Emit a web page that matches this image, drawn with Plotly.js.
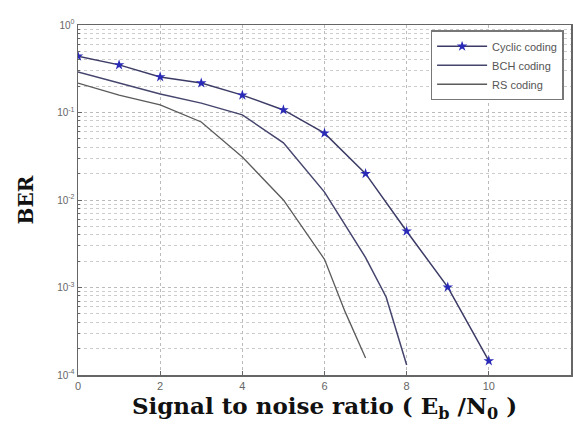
<!DOCTYPE html>
<html><head><meta charset="utf-8">
<script src="https://cdn.plot.ly/plotly-3.0.1.min.js"></script>
<style>html,body{margin:0;padding:0;background:#fff}#chart{width:573px;height:426px}</style>
</head><body><div id="chart"></div>
<script>
const cyclicX = [0,1,2,3,4,5,6,7,8,9,10];
const cyclicY = [0.44,0.35,0.255,0.217,0.158,0.107,0.058,0.020,0.0044,0.00101,0.000145];
const bchX = [0,1,2,3,4,5,6,7,7.5,8];
const bchY = [0.29,0.217,0.163,0.128,0.094,0.045,0.0123,0.0022,0.00078,0.00013];
const rsX = [0,1,2,3,4,5,6,6.5,7];
const rsY = [0.217,0.158,0.122,0.078,0.031,0.01,0.0021,0.00053,0.000156];
const yTickVals = [1e-4,1e-3,1e-2,1e-1,1];
const yTickText = ['10<sup>-4</sup>','10<sup>-3</sup>','10<sup>-2</sup>','10<sup>-1</sup>','10<sup>0</sup>'];
const xTickVals = [0,2,4,6,8,10,12];
const seriesNames = ['Cyclic coding','BCH coding','RS coding'];

const traces = [
  {x: cyclicX, y: cyclicY, name: seriesNames[0], mode: 'lines+markers',
   line: {color: '#3b3b66', width: 1.5},
   marker: {symbol: 'star', size: 8, color: '#2a2ab8'}},
  {x: bchX, y: bchY, name: seriesNames[1], mode: 'lines',
   line: {color: '#45456e', width: 1.5}},
  {x: rsX, y: rsY, name: seriesNames[2], mode: 'lines',
   line: {color: '#5a5a5a', width: 1.3}}
];

const layout = {
  width: 573, height: 426,
  margin: {l: 78, r: 2, t: 25, b: 51},
  paper_bgcolor: '#fff', plot_bgcolor: '#fff',
  showlegend: true,
  legend: {x: 0.985, y: 0.985, xanchor: 'right', yanchor: 'top',
    bgcolor: '#fff', bordercolor: '#777', borderwidth: 1.5, itemwidth: 50,
    font: {family: 'Liberation Sans, Arial', size: 11, color: '#555'},
    tracegroupgap: 0},
  xaxis: {range: [0, 12], tickmode: 'array', tickvals: xTickVals, ticks: 'inside', ticklen: 4,
    tickcolor: '#666', showline: true, linecolor: '#666', linewidth: 1.5, mirror: true,
    showgrid: true, gridcolor: '#bbb', griddash: 'dot', gridwidth: 1, zeroline: false,
    tickfont: {family: 'Liberation Sans, Arial', size: 11, color: '#666'},
    title: {text: 'Signal to noise ratio ( E<sub>b</sub> /N<sub>0</sub> )', standoff: 5,
      font: {family: 'DejaVu Serif, serif', size: 23, color: '#111', weight: 'bold'}}},
  yaxis: {type: 'log', range: [-4, 0], tickmode: 'array', tickvals: yTickVals, ticktext: yTickText,
    ticks: 'inside', ticklen: 4, tickcolor: '#666',
    showline: true, linecolor: '#666', linewidth: 1.5, mirror: true,
    showgrid: true, gridcolor: '#bbb', griddash: 'dot', gridwidth: 1, zeroline: false,
    minor: {dtick: 'D1', ticks: 'inside', ticklen: 2, tickcolor: '#666', showgrid: true, gridcolor: '#ccc', griddash: 'dot', gridwidth: 1},
    tickfont: {family: 'Liberation Sans, Arial', size: 10, color: '#666'},
    title: {text: 'BER', standoff: 18,
      font: {family: 'DejaVu Serif, serif', size: 20, color: '#111', weight: 'bold'}}}
};
Plotly.newPlot('chart', traces, layout, {displayModeBar: false, staticPlot: true});
</script></body></html>
